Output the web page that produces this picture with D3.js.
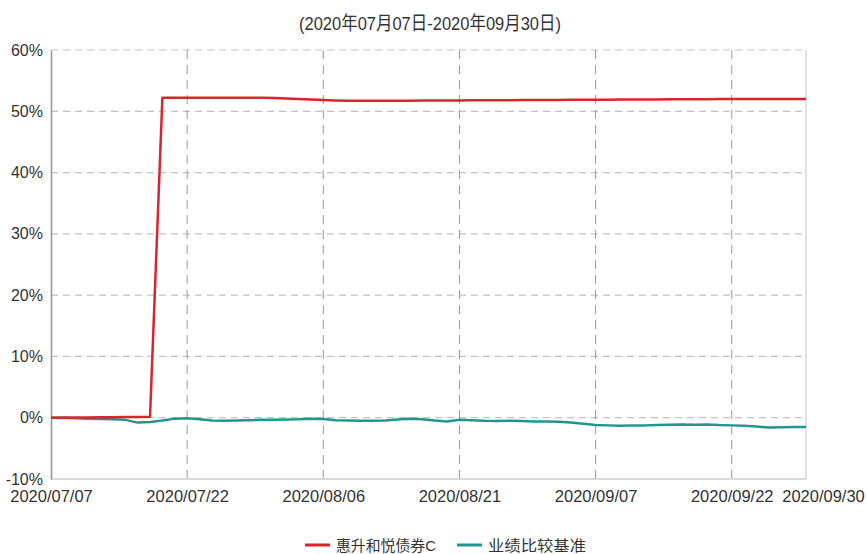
<!DOCTYPE html>
<html>
<head>
<meta charset="utf-8">
<script src="https://cdn.jsdelivr.net/npm/d3@7"></script>
<style>
  body { margin: 0; background: #fff; }
  svg text { font-family: "Liberation Sans Narrow", "Arial Narrow", "Liberation Sans", "Noto Sans CJK SC", sans-serif; fill: #333; }
</style>
</head>
<body>
<div id="chart"></div>
<script>
// trading days, 2020/07/07 - 2020/09/30
const dates = [
  "2020/07/07","2020/07/08","2020/07/09","2020/07/10","2020/07/13","2020/07/14","2020/07/15","2020/07/16","2020/07/17","2020/07/20",
  "2020/07/21","2020/07/22","2020/07/23","2020/07/24","2020/07/27","2020/07/28","2020/07/29","2020/07/30","2020/07/31","2020/08/03",
  "2020/08/04","2020/08/05","2020/08/06","2020/08/07","2020/08/10","2020/08/11","2020/08/12","2020/08/13","2020/08/14","2020/08/17",
  "2020/08/18","2020/08/19","2020/08/20","2020/08/21","2020/08/24","2020/08/25","2020/08/26","2020/08/27","2020/08/28","2020/08/31",
  "2020/09/01","2020/09/02","2020/09/03","2020/09/04","2020/09/07","2020/09/08","2020/09/09","2020/09/10","2020/09/11","2020/09/14",
  "2020/09/15","2020/09/16","2020/09/17","2020/09/18","2020/09/21","2020/09/22","2020/09/23","2020/09/24","2020/09/25","2020/09/28",
  "2020/09/29","2020/09/30"
];

// 惠升和悦债券C, cumulative return %
const fundValues = [
  0.00, 0.02, 0.03, 0.05, 0.06, 0.08, 0.10, 0.12, 0.15, 52.20,
  52.20, 52.21, 52.21, 52.22, 52.22, 52.22, 52.21, 52.20, 52.15, 52.08,
  52.00, 51.93, 51.86, 51.78, 51.72, 51.70, 51.70, 51.71, 51.72, 51.73,
  51.74, 51.75, 51.76, 51.78, 51.79, 51.80, 51.81, 51.82, 51.83, 51.84,
  51.85, 51.86, 51.87, 51.88, 51.89, 51.90, 51.91, 51.92, 51.93, 51.94,
  51.95, 51.96, 51.97, 51.98, 51.99, 52.00, 52.00, 52.01, 52.01, 52.01,
  52.02, 52.02
];

// 业绩比较基准, cumulative return %
const benchValues = [
  0.00, -0.05, -0.10, -0.15, -0.20, -0.25, -0.35, -0.80, -0.70, -0.45,
  -0.15, -0.10, -0.25, -0.45, -0.50, -0.45, -0.40, -0.35, -0.35, -0.30,
  -0.25, -0.15, -0.20, -0.40, -0.45, -0.50, -0.50, -0.45, -0.30, -0.15,
  -0.25, -0.45, -0.60, -0.35, -0.40, -0.50, -0.55, -0.50, -0.55, -0.60,
  -0.60, -0.65, -0.80, -1.00, -1.20, -1.25, -1.30, -1.25, -1.25, -1.20,
  -1.15, -1.10, -1.15, -1.10, -1.20, -1.25, -1.30, -1.45, -1.60, -1.55,
  -1.50, -1.50
];

const seriesNames = ["惠升和悦债券C", "业绩比较基准"];
const seriesColors = ["#d7262b", "#23958d"];
const xTickDates = ["2020/07/07","2020/07/22","2020/08/06","2020/08/21","2020/09/07","2020/09/22","2020/09/30"];
const yTicks = [-10, 0, 10, 20, 30, 40, 50, 60];
const title = "(2020年07月07日-2020年09月30日)";

const W = 866, H = 554;
const margin = { top: 50, right: 60, bottom: 75, left: 51 };

const svg = d3.select("#chart").append("svg")
  .attr("width", W)
  .attr("height", H);

const x = d3.scalePoint()
  .domain(dates)
  .range([margin.left, W - margin.right]);

const y = d3.scaleLinear()
  .domain([-10, 60])
  .range([H - margin.bottom, margin.top]);

// title
svg.append("text")
  .attr("x", 430)
  .attr("y", 30)
  .attr("text-anchor", "middle")
  .attr("font-size", 19)
  .attr("textLength", 262)
  .attr("lengthAdjust", "spacingAndGlyphs")
  .text(title);

// horizontal grid
svg.append("g")
  .selectAll("line")
  .data(yTicks.slice(1))
  .enter().append("line")
    .attr("x1", margin.left)
    .attr("x2", W - margin.right)
    .attr("y1", d => y(d))
    .attr("y2", d => y(d))
    .attr("stroke", "#c4c4c4")
    .attr("stroke-width", 1.2)
    .attr("stroke-dasharray", "7,5");

// vertical grid
svg.append("g")
  .selectAll("line")
  .data(xTickDates.slice(1, -1))
  .enter().append("line")
    .attr("x1", d => x(d))
    .attr("x2", d => x(d))
    .attr("y1", y(60))
    .attr("y2", y(-10))
    .attr("stroke", "#9a9a9a")
    .attr("stroke-width", 1)
    .attr("stroke-dasharray", "9,6");

// frame: bottom and right solid light, left darker
svg.append("line")
  .attr("x1", margin.left).attr("x2", W - margin.right)
  .attr("y1", y(-10)).attr("y2", y(-10))
  .attr("stroke", "#cfcfcf").attr("stroke-width", 1.5);
svg.append("line")
  .attr("x1", W - margin.right).attr("x2", W - margin.right)
  .attr("y1", y(60)).attr("y2", y(-10))
  .attr("stroke", "#cfcfcf").attr("stroke-width", 1.2);

// y axis
const yAxis = svg.append("g")
  .attr("transform", `translate(${margin.left},0)`)
  .call(d3.axisLeft(y).tickValues(yTicks).tickSize(0).tickPadding(8).tickFormat(d => d + "%"));
yAxis.select(".domain").attr("stroke", "#9a9a9a").attr("stroke-width", 1.6);
yAxis.selectAll("text").attr("font-size", 16).attr("fill", "#333");

// x axis labels
const xAxis = svg.append("g")
  .attr("transform", `translate(0,${y(-10)})`)
  .call(d3.axisBottom(x).tickValues(xTickDates).tickSize(0).tickPadding(11));
xAxis.select(".domain").remove();
xAxis.selectAll("text")
  .attr("font-size", 16.5)
  .attr("fill", "#333")
  .attr("dx", d => d === "2020/09/30" ? 17 : 0);

// lines
const line = d3.line()
  .x((d, i) => x(dates[i]))
  .y(d => y(d));

svg.append("path")
  .datum(benchValues)
  .attr("fill", "none")
  .attr("stroke", seriesColors[1])
  .attr("stroke-width", 2.5)
  .attr("stroke-linejoin", "round")
  .attr("d", line);

svg.append("path")
  .datum(fundValues)
  .attr("fill", "none")
  .attr("stroke", seriesColors[0])
  .attr("stroke-width", 2.5)
  .attr("stroke-linejoin", "round")
  .attr("d", line);

// legend
const legendX = [305, 457];
const legendW = [100, 98];
const legend = svg.append("g")
  .selectAll("g")
  .data(seriesNames)
  .enter().append("g")
    .attr("transform", (d, i) => `translate(${legendX[i]},545)`);
legend.append("line")
  .attr("x1", 0).attr("x2", 25)
  .attr("y1", 0).attr("y2", 0)
  .attr("stroke", (d, i) => seriesColors[i])
  .attr("stroke-width", 3);
legend.append("text")
  .attr("x", 31)
  .attr("y", 5.5)
  .attr("font-size", 15)
  .attr("textLength", (d, i) => legendW[i])
  .attr("lengthAdjust", "spacingAndGlyphs")
  .text(d => d);
</script>
</body>
</html>
